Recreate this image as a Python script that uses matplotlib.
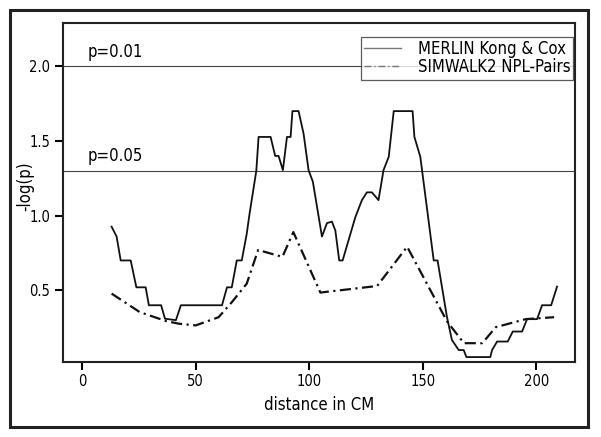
import matplotlib
matplotlib.use('Agg')
import matplotlib.pyplot as plt
from matplotlib.patches import Rectangle

plt.rcParams['font.family'] = ['DejaVu Sans']
plt.rcParams['font.stretch'] = 'condensed'

# MERLIN Kong & Cox (solid)
merlin_x = [13.0, 15.2, 17.0, 21.4, 23.9, 28.0, 29.4, 34.8, 36.5, 41.3, 43.5, 61.6,
            63.8, 65.9, 68.1, 70.3, 72.5, 73.7, 76.7, 77.7, 83.0, 85.0, 86.5, 88.4,
            90.2, 91.8, 92.6, 95.3, 97.5, 99.7, 101.6, 105.6, 107.8, 110.0, 111.5,
            113.2, 114.7, 120.3, 123.2, 125.4, 127.6, 130.5, 132.7, 135.0, 137.2,
            145.5, 146.3, 148.9, 154.8, 156.5, 160.6, 162.8, 165.8, 168.0, 169.2,
            179.7, 180.5, 182.7, 187.4, 189.6, 193.7, 195.9, 200.3, 202.5, 206.5, 209.1]
merlin_y = [0.926, 0.86, 0.70, 0.70, 0.52, 0.52, 0.40, 0.40, 0.31, 0.30, 0.40, 0.40,
            0.52, 0.52, 0.70, 0.70, 0.88, 1.01, 1.30, 1.527, 1.527, 1.40, 1.40, 1.305,
            1.527, 1.527, 1.70, 1.70, 1.55, 1.305, 1.227, 0.86, 0.95, 0.96, 0.90,
            0.70, 0.70, 0.99, 1.104, 1.156, 1.156, 1.104, 1.305, 1.394, 1.70,
            1.70, 1.527, 1.394, 0.70, 0.70, 0.324, 0.168, 0.10, 0.10, 0.053,
            0.053, 0.10, 0.157, 0.157, 0.224, 0.224, 0.307, 0.307, 0.40, 0.40, 0.525]

# SIMWALK2 NPL-Pairs (dash-dot)
simwalk_x = [13.0, 25.4, 37.0, 42.8, 50.0, 60.1, 65.9, 72.5, 77.5, 88.2, 93.0,
             104.9, 129.9, 143.1, 160.7, 168.1, 176.2, 182.1, 195.3, 207.8]
simwalk_y = [0.478, 0.354, 0.294, 0.276, 0.265, 0.32, 0.42, 0.545, 0.77, 0.724, 0.89,
             0.485, 0.529, 0.792, 0.291, 0.146, 0.146, 0.253, 0.307, 0.32]

xticks = [0, 50, 100, 150, 200]
yticks = [0.5, 1.0, 1.5, 2.0]
thresholds = [(2.0, 'p=0.01'), (1.301, 'p=0.05')]

fig = plt.figure(figsize=(6.01, 4.37), dpi=100)
fig.patches.append(Rectangle((10 / 601, 1 - 427 / 437), 578 / 601, 417 / 437,
                             transform=fig.transFigure, fill=False,
                             edgecolor='#222222', linewidth=2.2))

ax = fig.add_axes([63 / 601, 1 - 362 / 437, 512 / 601, 339 / 437])

for yv, lab in thresholds:
    ax.axhline(yv, color='#444444', linewidth=0.8)
    ax.text(2.5, yv + 0.035, lab, fontsize=12, va='bottom', ha='left')

ax.plot(merlin_x, merlin_y, color='#111111', linewidth=1.3,
        label='MERLIN Kong & Cox')
ax.plot(simwalk_x, simwalk_y, color='#111111', linewidth=1.6,
        linestyle=(0, (5, 2, 1, 2)), label='SIMWALK2 NPL-Pairs')

ax.set_xlim(-8.4, 217)
ax.set_ylim(0.02, 2.29)
ax.set_xticks(xticks)
ax.set_yticks(yticks)
ax.set_yticklabels([f'{v:.1f}' for v in yticks])
ax.tick_params(direction='out', length=6, width=1.5, labelsize=10.5, pad=3)
for s in ax.spines.values():
    s.set_linewidth(1.5)
    s.set_color('#222222')

ax.set_xlabel('distance in CM', fontsize=12)
ax.set_ylabel('-log(p)', fontsize=12)
ax.yaxis.set_label_coords(-0.056, 0.52)
ax.xaxis.set_label_coords(0.5, -0.1)

leg = ax.legend(loc='upper right', fontsize=12, frameon=True, fancybox=False,
                handlelength=2.2, handletextpad=1.0, borderpad=0.2,
                labelspacing=0.0, borderaxespad=0,
                bbox_to_anchor=(0.997, 0.959))
leg.get_frame().set_edgecolor('#333333')
leg.get_frame().set_linewidth(0.9)
for ln in leg.get_lines():
    ln.set_color('#777777')
    ln.set_linewidth(1.0)

plt.savefig('out.png', dpi=100)
